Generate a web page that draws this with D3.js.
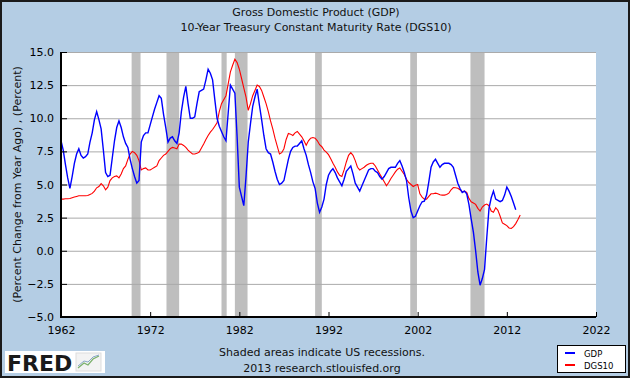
<!DOCTYPE html>
<html><head><meta charset="utf-8">
<script src="https://cdn.jsdelivr.net/npm/d3@7"></script>
<style>body{margin:0;padding:0;background:#fff}svg{display:block}text{font-family:"DejaVu Sans",Verdana,sans-serif}</style>
</head><body><div id="chart"></div>
<script>
const startYear = 1962;
const gdp = [
 8.3,7.6,6.5,5.5, 4.7,5.6,6.6,7.3, 7.7,7.2,7.0,7.1, 7.3,8.2,8.9,9.9,
 10.5,9.9,9.2,7.6, 5.9,5.6,5.7,7.0, 8.3,9.3,9.8,9.3, 8.6,8.1,7.8,6.9,
 6.2,5.6,5.1,5.3, 8.2,8.7,8.9,8.9, 9.5,10.1,10.7,11.2, 11.7,11.5,10.3,9.3,
 8.2,8.5,8.6,8.3, 8.1,8.9,10.5,11.6, 12.4,11.1,10.0,10.0, 10.1,11.1,12.0,12.1,
 12.2,12.9,13.7,13.4, 12.9,11.4,10.0,9.4, 9.0,8.6,8.3,10.4, 12.5,12.2,11.9,8.6,
 4.8,4.1,3.4,5.6, 8.2,9.6,10.9,11.6, 12.2,11.0,9.9,8.7, 7.7,7.4,7.3,6.7,
 6.0,5.4,5.0,5.1, 5.3,6.1,6.9,7.5, 7.8,7.9,7.9,8.1, 8.3,7.7,7.2,6.5,
 5.9,5.2,4.7,3.6, 2.9,3.3,3.9,5.0, 5.7,6.0,6.2,5.9, 5.5,5.2,4.9,5.4,
 6.0,6.2,6.4,5.8, 5.1,4.8,4.5,4.9, 5.3,5.7,6.1,6.2, 6.2,6.0,5.9,5.6,
 5.4,5.6,5.9,6.2, 6.3,6.3,6.3,6.6, 6.8,6.4,5.9,5.3, 4.0,3.0,2.5,2.6,
 3.0,3.4,3.7,3.75, 4.2,5.2,6.3,6.7, 6.9,6.6,6.3,6.5, 6.6,6.6,6.6,6.5,
 6.3,5.7,5.1,4.7, 4.4,4.5,4.3,3.5, 2.4,1.4,0.0,-1.6, -2.6,-2.1,-1.4,1.0,
 3.2,4.0,4.5,3.9, 3.8,3.7,3.8,4.2, 4.8,4.5,4.1,3.6, 3.1
];
const dgs10 = [
 3.9,3.9,3.92,3.92, 3.94,4.0,4.05,4.1, 4.15,4.15,4.15,4.15, 4.17,4.25,4.33,4.5,
 4.75,4.85,5.07,4.9, 4.6,4.8,5.3,5.5, 5.6,5.65,5.5,5.8, 6.2,6.4,6.9,7.3,
 7.5,7.4,7.2,6.8, 6.1,6.2,6.25,6.1, 6.1,6.2,6.3,6.4, 6.8,7.0,7.2,7.3,
 7.5,7.7,7.8,7.75, 7.7,8.05,8.05,7.95, 7.8,7.6,7.45,7.3, 7.3,7.35,7.45,7.75,
 8.05,8.4,8.7,8.95, 9.15,9.4,9.65,10.5, 11.1,11.4,11.7,12.6, 13.5,14.0,14.45,14.2,
 13.7,13.0,12.3,11.6, 10.6,11.1,11.7,12.1, 12.5,12.4,12.1,11.6, 11.1,10.5,9.8,9.2,
 8.5,7.9,7.3,7.4, 7.7,8.4,8.85,8.8, 8.7,8.9,9.0,8.8, 8.6,8.3,7.96,8.3,
 8.5,8.55,8.5,8.3, 8.0,7.85,7.6,7.45, 7.25,6.95,6.6,6.3, 5.95,5.7,5.6,6.1,
 6.7,7.2,7.4,7.2, 6.8,6.3,6.1,6.2, 6.3,6.45,6.55,6.6, 6.6,6.4,6.1,5.8,
 5.5,5.2,4.9,5.15, 5.45,5.7,5.95,6.15, 6.25,6.0,5.75,5.4, 5.15,5.0,4.85,4.95,
 5.0,4.3,4.05,3.9, 3.9,4.1,4.3,4.3, 4.35,4.3,4.22,4.2, 4.2,4.25,4.35,4.6,
 4.77,4.75,4.72,4.6, 4.45,4.5,4.4,3.95, 3.7,3.6,3.5,3.2, 3.0,3.3,3.45,3.52,
 3.4,3.0,2.9,3.25, 3.05,2.6,2.1,2.0, 1.9,1.72,1.68,1.82, 2.05,2.35,2.7
];
const recessions = [[1969.92,1970.92],[1973.83,1975.25],[1980.0,1980.58],[1981.5,1982.92],[1990.5,1991.25],[2001.17,2001.92],[2007.92,2009.5]];
const xTicks = [1962,1972,1982,1992,2002,2012,2022];
const yTicks = [-5,-2.5,0,2.5,5,7.5,10,12.5,15];
const titles = ["Gross Domestic Product (GDP)","10-Year Treasury Constant Maturity Rate (DGS10)"];
const yLabel = "(Percent Change from Year Ago) , (Percent)";
const notes = ["Shaded areas indicate US recessions.","2013 research.stlouisfed.org"];
const seriesNames = ["GDP","DGS10"];
const seriesColors = ["#0000ff","#ff0000"];

const W = 630, H = 378;
const L = 61, R = 596, T = 52, B = 317;
const svg = d3.select("#chart").append("svg").attr("width", W).attr("height", H);
svg.append("rect").attr("x",1).attr("y",1).attr("width",W-2).attr("height",H-2)
  .attr("fill","#b4cde4").attr("stroke","#1a1a1a").attr("stroke-width",2);

const x = d3.scaleLinear().domain([1962,2022]).range([L,R]);
const y = d3.scaleLinear().domain([-5,15]).range([B,T]);

svg.append("rect").attr("x",L).attr("y",T).attr("width",R-L).attr("height",B-T).attr("fill","#fff");

// recessions
svg.append("g").selectAll("rect").data(recessions).join("rect")
  .attr("x", d=>x(d[0])).attr("y",T).attr("width", d=>x(d[1])-x(d[0])).attr("height",B-T)
  .attr("fill","#bebebe");

// grid
svg.append("g").selectAll("line").data(yTicks.filter(v=>v>-5)).join("line")
  .attr("x1",L).attr("x2",R).attr("y1",d=>y(d)+0.5).attr("y2",d=>y(d)+0.5)
  .attr("stroke","#aaaaaa").attr("stroke-width",1);

// series
const line = d3.line().x((d,i)=>x(startYear+i/4)).y(d=>y(d));
svg.append("path").datum(dgs10).attr("d",line).attr("fill","none").attr("stroke",seriesColors[1]).attr("stroke-width",1.1);
svg.append("path").datum(gdp).attr("d",line).attr("fill","none").attr("stroke",seriesColors[0]).attr("stroke-width",1.4);

// axes
const ya = svg.append("g").attr("transform",`translate(${L},0)`)
  .call(d3.axisRight(y).tickValues(yTicks).tickSize(6).tickFormat(d3.format(".1f")));
ya.select(".domain").remove();
ya.selectAll("text").attr("x",-7).attr("text-anchor","end").attr("font-size",11).attr("fill","#000")
  .attr("font-family","DejaVu Sans, sans-serif");
ya.selectAll("line").attr("stroke","#000");
const xa = svg.append("g").attr("transform",`translate(0,${B})`)
  .call(d3.axisTop(x).tickValues(xTicks).tickSize(5).tickFormat(d3.format("d")));
xa.select(".domain").remove();
xa.selectAll("text").attr("y",17).attr("dy","0").attr("font-size",11).attr("fill","#000")
  .attr("font-family","DejaVu Sans, sans-serif");
xa.selectAll("line").attr("stroke","#000");
svg.append("line").attr("x1",L).attr("x2",L).attr("y1",T).attr("y2",B+1).attr("stroke","#000").attr("stroke-width",2);
svg.append("line").attr("x1",L-1).attr("x2",R).attr("y1",B).attr("y2",B).attr("stroke","#000").attr("stroke-width",2);

// titles
svg.selectAll(".title").data(titles).join("text").attr("class","title")
  .attr("x",316).attr("y",(d,i)=>16+i*15).attr("text-anchor","middle").attr("font-size",11).attr("fill","#111").text(d=>d);
svg.append("text").attr("transform",`translate(21,${(T+B)/2}) rotate(-90)`).attr("text-anchor","middle")
  .attr("font-size",11).attr("fill","#111").text(yLabel);
svg.selectAll(".note").data(notes).join("text").attr("class","note")
  .attr("x",322).attr("y",(d,i)=>356+i*16).attr("text-anchor","middle").attr("font-size",11).attr("fill","#111").text(d=>d);

// legend
const lg = svg.append("g");
lg.append("rect").attr("x",557.5).attr("y",345.5).attr("width",68).attr("height",27).attr("fill","#fff").attr("stroke","#000");
seriesNames.forEach((n,i)=>{
  lg.append("line").attr("x1",565).attr("x2",575).attr("y1",353+i*12).attr("y2",353+i*12).attr("stroke",seriesColors[i]).attr("stroke-width",2);
  lg.append("text").attr("x",584).attr("y",357+i*12).attr("font-size",8.5).attr("fill","#000").text(n);
});

// FRED logo
const lo = svg.append("g");
lo.append("rect").attr("x",5).attr("y",351).attr("width",100).attr("height",22).attr("fill","#fff");
lo.append("text").attr("x",7).attr("y",371).attr("font-family","DejaVu Sans, sans-serif").attr("font-weight","bold")
  .attr("font-size",22).attr("fill","#1a1a1a").text("FRED");
lo.append("rect").attr("x",76).attr("y",353).attr("width",25).attr("height",18).attr("fill","#f3f3f3").attr("stroke","#ddd");
lo.append("path").attr("d","M78,368 L84,363 L88,365 L93,359 L99,356").attr("fill","none").attr("stroke","#7ab06a").attr("stroke-width",1.2);
lo.append("path").attr("d","M78,366 L84,361 L88,362 L93,357 L99,355").attr("fill","none").attr("stroke","#8aa8c8").attr("stroke-width",1);
</script></body></html>
